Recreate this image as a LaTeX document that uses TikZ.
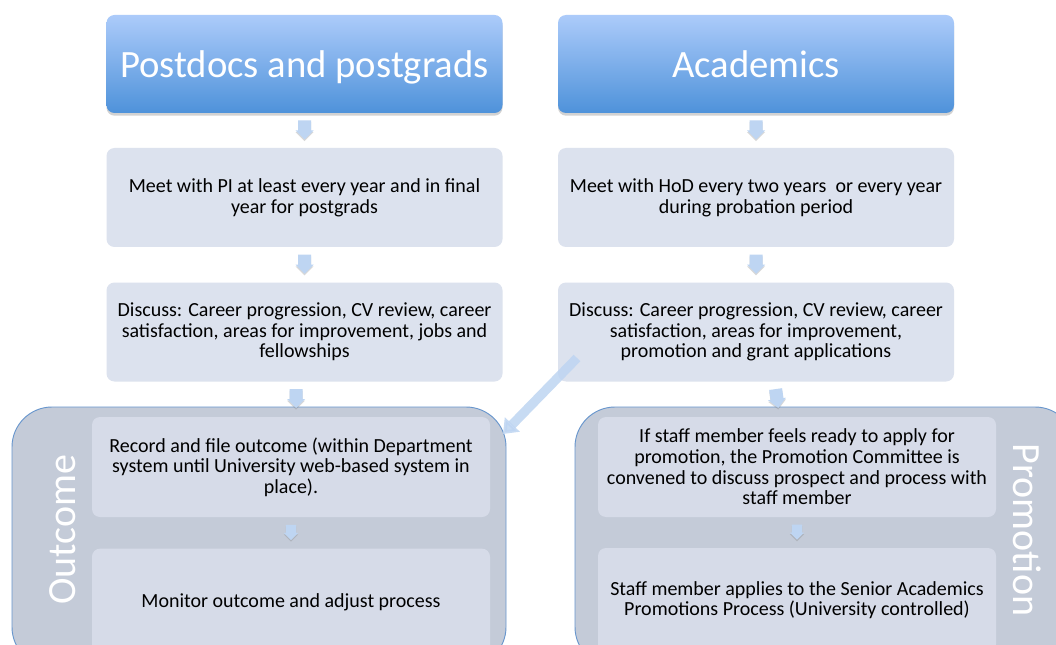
\documentclass[tikz,border=0pt]{standalone}
\usepackage{fontspec}
\setmainfont{Carlito}
\usetikzlibrary{shadows,calc,arrows.meta}
\definecolor{hdrtop}{RGB}{172,203,250}
\definecolor{hdrbot}{RGB}{78,146,218}
\definecolor{stepfill}{RGB}{220,226,238}
\definecolor{grpfill}{RGB}{196,203,216}
\definecolor{grpline}{RGB}{104,150,205}
\definecolor{innerfill}{RGB}{214,219,232}
\definecolor{arrfill}{RGB}{190,213,242}
\tikzset{
  hdr/.style={rectangle, rounded corners=6pt, top color=hdrtop, bottom color=hdrbot,
    text=white, font=\fontsize{29}{32}\selectfont, minimum width=297pt, minimum height=73.5pt,
    text height=21pt, text depth=1pt,
    drop shadow={shadow xshift=0pt, shadow yshift=-2pt, opacity=0.35}},
  stepbox/.style={rectangle, rounded corners=6pt, fill=stepfill, text=black,
    font=\fontsize{15}{15.5}\selectfont, align=center, minimum width=297pt, minimum height=74.25pt},
  innerbox/.style={rectangle, rounded corners=6pt, fill=innerfill, text=black,
    font=\fontsize{15}{15.5}\selectfont, align=center, minimum width=298.5pt},
  grp/.style={rectangle, rounded corners=30pt, fill=grpfill, draw=grpline, line width=0.7pt},
  grplabel/.style={text=white, font=\fontsize{30}{32}\selectfont},
  % small downward block arrow, drawn in the picture's pixel units
  pics/downarrow/.style={code={
    \fill[arrfill, drop shadow={shadow xshift=0pt, shadow yshift=-1.2pt, opacity=0.3}]
      (-6.5,-10) -- (6.5,-10) -- (6.5,0) -- (9,0) -- (0,9) -- (-9,0) -- (-6.5,0) -- cycle;
  }},
  diag/.style={draw=arrfill, opacity=0.85, line width=7pt,
    -{Triangle[width=15pt,length=10pt]}},
}
\begin{document}
\begin{tikzpicture}[x=0.75pt,y=-0.75pt]
\useasboundingbox (0,0) rectangle (1056,645);
\clip (0,0) rectangle (1056,645);
\fill[white] (0,0) rectangle (1056,645);

% column headers
\node[hdr] (h1) at (304.5,64) {Postdocs and postgrads};
\node[hdr] (h2) at (756,64) {Academics};

% meeting boxes
\node[stepbox] (m1) at (304.5,197.5) {Meet with PI at least every year and in final\\year for postgrads};
\node[stepbox] (m2) at (756,197.5) {Meet with HoD every two years~ or every year\\during probation period};

% discussion boxes
\node[stepbox] (d1) at (304.5,332) {Discuss: Career progression, CV review, career\\satisfaction, areas for improvement, jobs and\\fellowships};
\node[stepbox] (d2) at (756,332) {Discuss: Career progression, CV review, career\\satisfaction, areas for improvement,\\promotion and grant applications};

% outcome group
\node[grp, minimum width=370.5pt, minimum height=195pt] (og) at (259,537) {};
\node[innerbox, minimum height=75pt] (o1) at (291,467) {Record and file outcome (within Department\\system until University web-based system in\\place).};
\node[innerbox, minimum height=80pt] (o2) at (291,602) {Monitor outcome and adjust process};
\node[grplabel, rotate=90] (ol) at (63,530) {Outcome};

% promotion group
\node[grp, minimum width=375pt, minimum height=195pt] (pg) at (825,537) {};
\node[innerbox, minimum height=75pt] (p1) at (797,467) {If staff member feels ready to apply for\\promotion, the Promotion Committee is\\convened to discuss prospect and process with\\staff member};
\node[innerbox, minimum height=78pt] (p2) at (797,600) {Staff member applies to the Senior Academics\\Promotions Process (University controlled)};
\node[grplabel, rotate=-90] (pl) at (1027,530) {Promotion};

% small block arrows between steps
\pic at ($(h1.south)!0.5!(m1.north)$) {downarrow};
\pic at ($(h2.south)!0.5!(m2.north)$) {downarrow};
\pic at ($(m1.south)!0.5!(d1.north)$) {downarrow};
\pic at ($(m2.south)!0.5!(d2.north)$) {downarrow};
\pic at (296,399) {downarrow};
\pic[rotate=8] at (777,399) {downarrow};
\pic[scale=0.8] at ($(o1.south)!0.5!(o2.north)$) {downarrow};
\pic[scale=0.8] at ($(p1.south)!0.5!(p2.north)$) {downarrow};

% diagonal link from the academics discussion into the outcome group
\coordinate (dtail) at (577,358);
\coordinate (dtip) at (503,434);
\draw[diag] (dtail) -- (dtip);
\end{tikzpicture}
\end{document}
